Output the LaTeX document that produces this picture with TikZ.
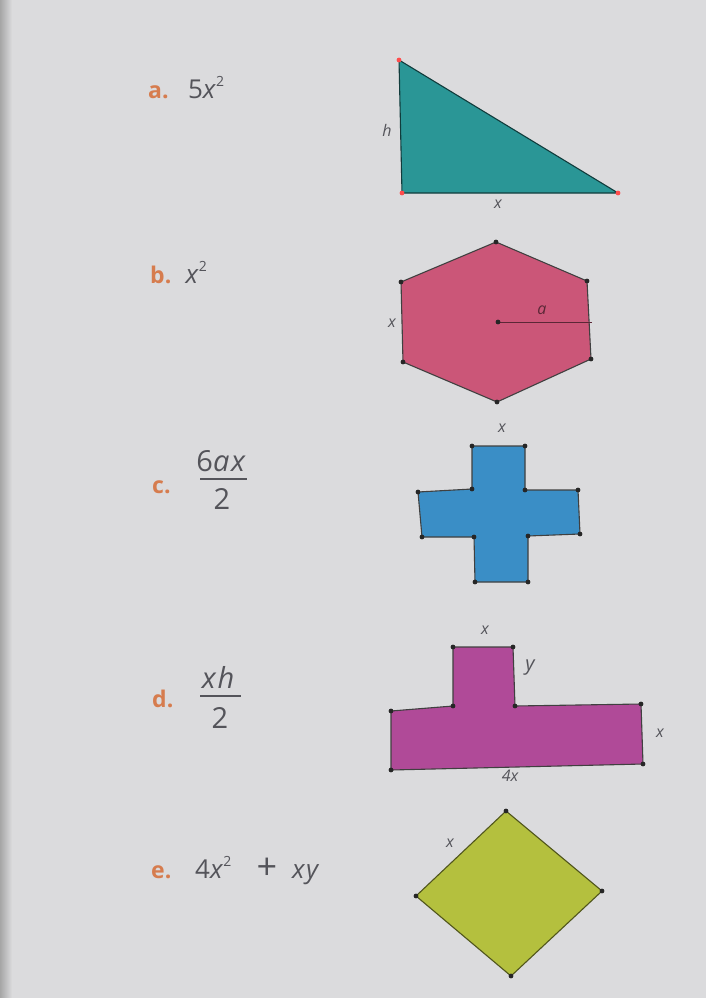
\documentclass[tikz,border=0pt]{standalone}
\usepackage{fontspec}
\setmainfont{Open Sans}
\newfontfamily\exprfont[LetterSpace=6]{Open Sans}
\usetikzlibrary{positioning}

\definecolor{pagegray}{RGB}{219,219,221}
\definecolor{inkgray}{RGB}{84,84,90}
\definecolor{itemorange}{RGB}{214,124,78}
\definecolor{tealfill}{RGB}{42,150,150}
\definecolor{pinkfill}{RGB}{203,86,120}
\definecolor{bluefill}{RGB}{58,142,198}
\definecolor{plumfill}{RGB}{176,74,152}
\definecolor{limefill}{RGB}{180,192,62}

\newcommand\pwr{\kern-1.5pt\raisebox{0.8ex}{\fontsize{14}{14}\selectfont 2}}

\tikzset{
  itemlbl/.style={font=\fontsize{23}{26}\selectfont\bfseries, text=itemorange, anchor=base west, inner sep=0pt},
  expr/.style={font=\exprfont\fontsize{26}{30}\selectfont, text=inkgray, anchor=base west, inner sep=0pt},
  fracpart/.style={font=\exprfont\fontsize{29}{32}\selectfont, text=inkgray, inner sep=0pt},
  dimlbl/.style={font=\fontsize{16}{18}\selectfont\itshape, text=inkgray, inner sep=1pt},
  figure/.style={draw=black!75, line width=1.1pt, line join=round},
}

\begin{document}
\begin{tikzpicture}[x=1pt, y=-1pt]
\fill[pagegray] (0,0) rectangle (706,998);
\shade[left color=black!35, right color=pagegray] (0,0) rectangle (12,998);
\useasboundingbox (0,0) rectangle (706,998);

% item labels and answers
\node[itemlbl] (lblA) at (148,98) {a.};
\node[expr, base right=19pt of lblA] (exA) {5\textit{x}\pwr};
\node[itemlbl] (lblB) at (150,283) {b.};
\node[expr, base right=14pt of lblB] (exB) {\textit{x}\pwr};
\node[itemlbl] (lblC) at (152,493) {c.};
\node[fracpart] (numC) at (222,461) {6\textit{ax}};
\node[fracpart] (denC) at (222,499) {2};
\draw[inkgray, line width=1.3pt] (200,479) -- (247,479);
\node[itemlbl] (lblD) at (152,707) {d.};
\node[fracpart] (numD) at (219,677) {\textit{xh}};
\node[fracpart] (denD) at (220,718) {2};
\draw[inkgray, line width=1.3pt] (200,696) -- (241,696);
\node[itemlbl] (lblE) at (151,878) {e.};
\node[expr] (exE) at (195,878) {4\textit{x}\pwr};
\node[expr, anchor=base, font=\fontsize{36}{36}\selectfont] (plusE) at (267,879) {+};
\node[expr] (xyE) at (292,878) {\textit{xy}};

% triangle
\coordinate (t1) at (399,60);
\coordinate (t2) at (402,193);
\coordinate (t3) at (618,193);
\fill[tealfill] (t1) -- (t2) -- (t3) -- cycle;
\draw[figure, draw=black!60!tealfill] (t1) -- (t2) -- (t3) -- cycle;
\foreach \p in {t1,t2,t3}
  \fill[red!60!pink] (\p) circle (2.4);
\node[dimlbl] (hA) at (387,130) {h};
\node[dimlbl] (xA) at (498,204) {x};

% hexagon
\coordinate (h1) at (496,242);
\coordinate (h2) at (587,281);
\coordinate (h3) at (591,359);
\coordinate (h4) at (497,402);
\coordinate (h5) at (403,362);
\coordinate (h6) at (401,282);
\coordinate (hc) at (498,322);
\coordinate (hm) at (592,322);
\fill[pinkfill] (h1) -- (h2) -- (h3) -- (h4) -- (h5) -- (h6) -- cycle;
\draw[figure] (h1) -- (h2) -- (h3) -- (h4) -- (h5) -- (h6) -- cycle;
\draw[black!55!pinkfill, line width=1pt] (hc) -- (hm);
\foreach \p in {h1,h2,h3,h4,h5,h6,hc}
  \fill[black!85] (\p) circle (2.4);
\node[dimlbl, text=black!55!pinkfill] (aB) at (542,310) {a};
\node[dimlbl] (xB) at (392,323) {x};

% cross
\coordinate (c1) at (472,446);
\coordinate (c2) at (525,446);
\coordinate (c3) at (525,490);
\coordinate (c4) at (578,490);
\coordinate (c5) at (580,534);
\coordinate (c6) at (528,536);
\coordinate (c7) at (528,582);
\coordinate (c8) at (475,582);
\coordinate (c9) at (474,537);
\coordinate (c10) at (422,537);
\coordinate (c11) at (418,492);
\coordinate (c12) at (472,489);
\fill[bluefill] (c1) -- (c2) -- (c3) -- (c4) -- (c5) -- (c6) -- (c7) -- (c8) -- (c9) -- (c10) -- (c11) -- (c12) -- cycle;
\draw[figure] (c1) -- (c2) -- (c3) -- (c4) -- (c5) -- (c6) -- (c7) -- (c8) -- (c9) -- (c10) -- (c11) -- (c12) -- cycle;
\foreach \p in {c1,c2,c3,c4,c5,c6,c7,c8,c9,c10,c11,c12}
  \fill[black!85] (\p) circle (2.4);
\node[dimlbl] (xC) at (502,428) {x};

% T shape
\coordinate (d1) at (453,647);
\coordinate (d2) at (513,647);
\coordinate (d3) at (515,706);
\coordinate (d4) at (641,704);
\coordinate (d5) at (643,764);
\coordinate (d6) at (391,770);
\coordinate (d7) at (391,711);
\coordinate (d8) at (453,706);
\fill[plumfill] (d1) -- (d2) -- (d3) -- (d4) -- (d5) -- (d6) -- (d7) -- (d8) -- cycle;
\draw[figure] (d1) -- (d2) -- (d3) -- (d4) -- (d5) -- (d6) -- (d7) -- (d8) -- cycle;
\foreach \p in {d1,d2,d3,d4,d5,d6,d7,d8}
  \fill[black!85] (\p) circle (2.4);
\node[dimlbl] (xD1) at (485,630) {x};
\node[dimlbl, font=\fontsize{20}{22}\selectfont\itshape] (yD) at (530,668) {y};
\node[dimlbl] (xD2) at (660,733) {x};
\node[dimlbl] (xD3) at (510,776) {4x};

% square on its corner
\coordinate (e1) at (506,811);
\coordinate (e2) at (602,891);
\coordinate (e3) at (511,976);
\coordinate (e4) at (416,896);
\fill[limefill] (e1) -- (e2) -- (e3) -- (e4) -- cycle;
\draw[figure, draw=black!55!limefill] (e1) -- (e2) -- (e3) -- (e4) -- cycle;
\foreach \p in {e1,e2,e3,e4}
  \fill[black!85] (\p) circle (2.4);
\node[dimlbl] (xE) at (450,843) {x};
\end{tikzpicture}
\end{document}
